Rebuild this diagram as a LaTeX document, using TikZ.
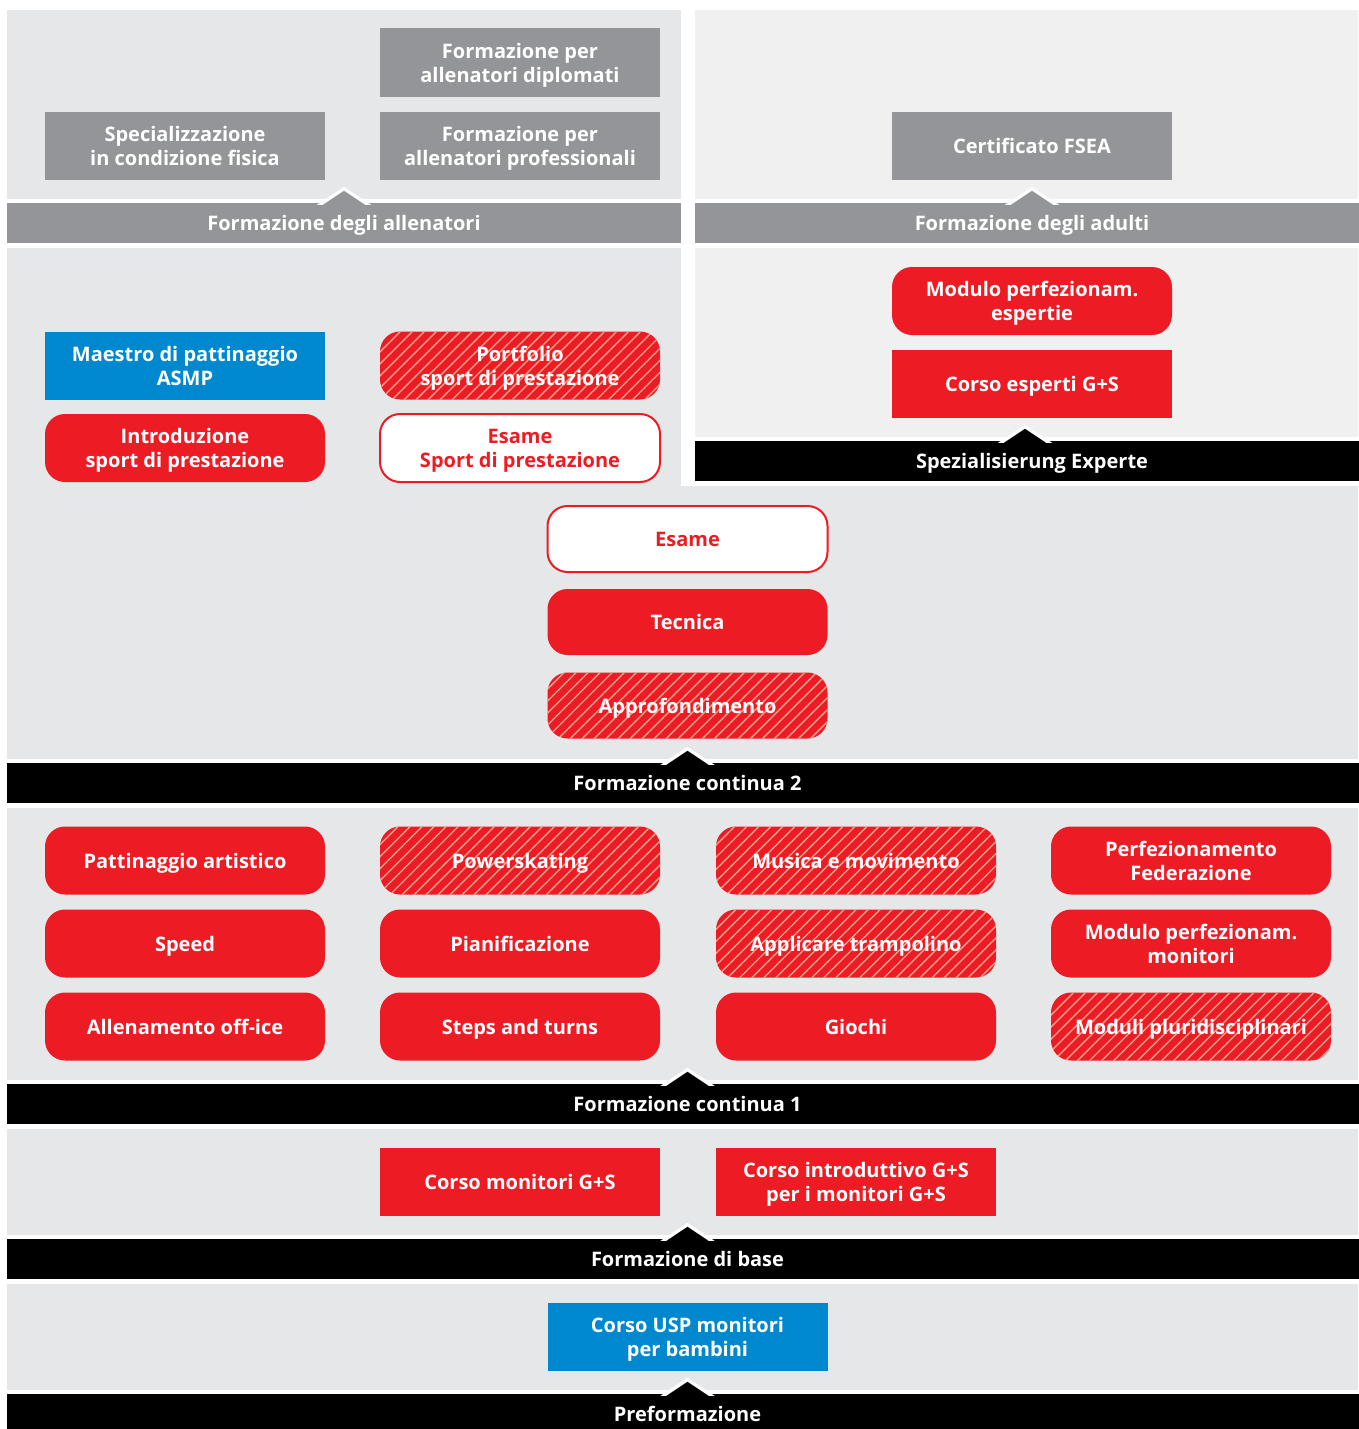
\documentclass[tikz,border=0pt]{standalone}
\usepackage{fontspec}
\setmainfont{Open Sans}
\usetikzlibrary{patterns.meta}
\definecolor{ered}{RGB}{237,28,36}
\definecolor{eblue}{RGB}{0,136,206}
\definecolor{boxgrey}{RGB}{147,149,152}
\definecolor{panelgrey}{RGB}{230,231,233}
\definecolor{panellight}{RGB}{240,240,240}
\definecolor{hatch}{RGB}{246,160,142}
% small triangle on top of a bar
\newcommand\notch[2]{%
  \fill[white] #1 ++(-27,2) -- ++(27,-18) -- ++(27,18) -- cycle;
  \fill[#2] #1 ++(-21,2) -- ++(21,-14) -- ++(21,14) -- cycle;}

\begin{document}
\begin{tikzpicture}[x=1pt, y=-1pt, font=\bfseries\fontsize{20}{24}\selectfont,
  box/.style = {minimum width=280, minimum height=68, inner sep=0, align=center, text=white, text depth=0pt},
  redbox/.style = {box, fill=ered},
  roundbox/.style = {redbox, rounded corners=20},
  hatchbox/.style = {box, rounded corners=20, preaction={fill=ered},
    pattern={Lines[angle=45, distance=8.5pt, line width=1.4pt]}, pattern color=hatch},
  exambox/.style = {box, rounded corners=20, fill=white, draw=ered, line width=2, text=ered},
  bluebox/.style = {box, fill=eblue},
  greybox/.style = {box, fill=boxgrey},
  bar/.style = {minimum height=40, inner sep=0, text=white, text depth=0pt}]
  \useasboundingbox (0,0) rectangle (1358,1429);

  % panels
  \fill[panelgrey] (7,10) rectangle (681,199);
  \fill[panellight] (695,10) rectangle (1358,199);
  \fill[panelgrey] (7,248) rectangle (1358,759);
  \fill[white] (681,243) rectangle (1358,486);
  \fill[panellight] (695,248) rectangle (1358,437);
  \fill[panelgrey] (7,808) rectangle (1358,1080);
  \fill[panelgrey] (7,1129) rectangle (1358,1235);
  \fill[panelgrey] (7,1284) rectangle (1358,1390);

  % Formazione degli allenatori
  \node[greybox] (diplomati) at (520,62.5) {Formazione per\\allenatori diplomati};
  \node[greybox] (specializzazione) at (185,145.5) {Specializzazione\\in condizione fisica};
  \node[greybox] (professionali) at (520,145.5) {Formazione per\\allenatori professionali};
  \node[bar, fill=boxgrey, minimum width=674] (fa) at (344,223) {Formazione degli allenatori};
  \notch{(fa.north)}{boxgrey}

  % Formazione degli adulti
  \node[greybox] (fsea) at (1032,145.5) {Certificato FSEA};
  \node[bar, fill=boxgrey, minimum width=674] (fad) at (1032,223) {Formazione degli adulti};
  \notch{(fad.north)}{boxgrey}

  \node[bluebox] (asmp) at (185,365.5) {Maestro di pattinaggio\\ASMP};
  \node[hatchbox] (portfolio) at (520,365.5) {Portfolio\\sport di prestazione};
  \node[roundbox] (introduzione) at (185,448) {Introduzione\\sport di prestazione};
  \node[exambox] (esamesp) at (520,448) {Esame\\Sport di prestazione};

  % Spezialisierung Experte
  \node[roundbox] (modesperti) at (1032,301) {Modulo perfezionam.\\espertie};
  \node[redbox] (esperti) at (1032,384) {Corso esperti G+S};
  \node[bar, fill=black, minimum width=674] (spe) at (1032,461) {Spezialisierung Experte};
  \notch{([xshift=-7pt]spe.north)}{black}

  % Formazione continua 2
  \node[exambox, minimum height=66] (esame) at (687.5,539) {Esame};
  \node[roundbox, minimum height=66] (tecnica) at (687.5,622) {Tecnica};
  \node[hatchbox, minimum height=66] (approf) at (687.5,705.5) {Approfondimento};
  \node[bar, fill=black, minimum width=1361] (fc2) at (687.5,783) {Formazione continua 2};
  \notch{(fc2.north)}{black}

  % Formazione continua 1
  \node[roundbox] (artistico) at (185,860.5) {Pattinaggio artistico};
  \node[hatchbox] (powerskating) at (520,860.5) {Powerskating};
  \node[hatchbox] (musica) at (856,860.5) {Musica e movimento};
  \node[roundbox] (federazione) at (1191,860.5) {Perfezionamento\\Federazione};
  \node[roundbox] (speed) at (185,943.5) {Speed};
  \node[roundbox] (pianificazione) at (520,943.5) {Pianificazione};
  \node[hatchbox] (trampolino) at (856,943.5) {Applicare trampolino};
  \node[roundbox] (modmonitori) at (1191,943.5) {Modulo perfezionam.\\monitori};
  \node[roundbox] (office) at (185,1026.5) {Allenamento off-ice};
  \node[roundbox] (steps) at (520,1026.5) {Steps and turns};
  \node[roundbox] (giochi) at (856,1026.5) {Giochi};
  \node[hatchbox] (moduli) at (1191,1026.5) {Moduli pluridisciplinari};
  \node[bar, fill=black, minimum width=1361] (fc1) at (687.5,1104) {Formazione continua 1};
  \notch{(fc1.north)}{black}

  % Formazione di base
  \node[redbox] (monitori) at (520,1182) {Corso monitori G+S};
  \node[redbox] (introduttivo) at (856,1182) {Corso introduttivo G+S\\per i monitori G+S};
  \node[bar, fill=black, minimum width=1361] (fb) at (687.5,1259) {Formazione di base};
  \notch{(fb.north)}{black}

  % Preformazione
  \node[bluebox] (usp) at (687.5,1337) {Corso USP monitori\\per bambini};
  \node[bar, fill=black, minimum width=1361] (pre) at (687.5,1414) {Preformazione};
  \notch{(pre.north)}{black}
\end{tikzpicture}
\end{document}
